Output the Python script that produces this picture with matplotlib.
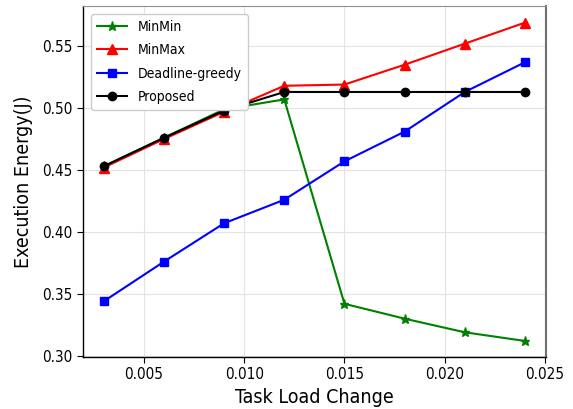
import matplotlib
matplotlib.use("Agg")
import matplotlib.pyplot as plt

# Task load change steps
task_load = [0.003, 0.006, 0.009, 0.012, 0.015, 0.018, 0.021, 0.024]

# Execution energy (J) per scheduling method
minmin = [0.453, 0.476, 0.499, 0.507, 0.342, 0.330, 0.319, 0.312]
minmax = [0.452, 0.475, 0.497, 0.518, 0.519, 0.535, 0.552, 0.569]
deadline_greedy = [0.344, 0.376, 0.407, 0.426, 0.457, 0.481, 0.513, 0.537]
proposed = [0.453, 0.476, 0.498, 0.513, 0.513, 0.513, 0.513, 0.513]

series_names = ["MinMin", "MinMax", "Deadline-greedy", "Proposed"]

plt.rcParams["font.family"] = ["DejaVu Sans"]
plt.rcParams["font.stretch"] = "condensed"

fig = plt.figure(figsize=(5.73, 4.09), dpi=100)
ax = fig.add_axes([0.1443, 0.1279, 0.8086, 0.8574])

ax.plot(task_load, minmin, color="green", marker="*", markersize=6.5, lw=1.5, label=series_names[0])
ax.plot(task_load, minmax, color="red", marker="^", markersize=6.5, lw=1.5, label=series_names[1])
ax.plot(task_load, deadline_greedy, color="blue", marker="s", markersize=6, lw=1.5, label=series_names[2])
ax.plot(task_load, proposed, color="black", marker="o", markersize=6, lw=1.5, label=series_names[3])

ax.set_xlim(0.00195, 0.02505)
ax.set_ylim(0.2993, 0.5824)
ax.set_xticks([0.005, 0.010, 0.015, 0.020, 0.025])
ax.set_yticks([0.30, 0.35, 0.40, 0.45, 0.50, 0.55])

ax.grid(True, color="#e3e3e3", lw=0.8)
ax.set_axisbelow(True)

for side in ("left", "bottom"):
    ax.spines[side].set_color("black")
    ax.spines[side].set_linewidth(1.0)
ax.spines["top"].set_color("#909090")
ax.spines["right"].set_color("#707070")
ax.spines["right"].set_linewidth(1.5)

ax.tick_params(axis="both", direction="out", length=4, width=0.8, labelsize=11,
               top=False, right=False)

ax.set_xlabel("Task Load Change", fontsize=14, labelpad=4)
ax.set_ylabel("Execution Energy(J)", fontsize=14, labelpad=6)

ax.legend(loc="upper left", fontsize=10, handlelength=2.2, borderaxespad=0.6,
          labelspacing=0.68, framealpha=1.0, edgecolor="#cccccc", fancybox=True)

fig.savefig("out.png", dpi=100)
